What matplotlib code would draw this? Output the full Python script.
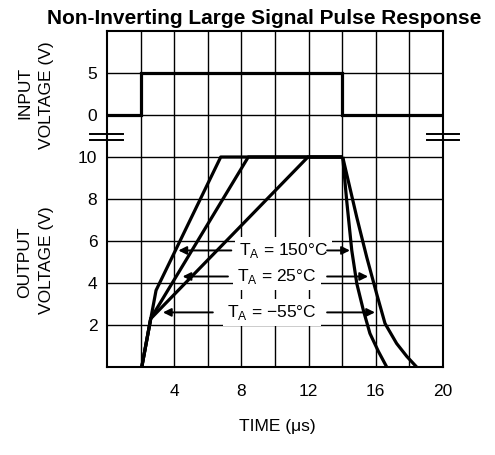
import matplotlib
matplotlib.use("Agg")
import matplotlib.pyplot as plt

plt.rcParams['font.family'] = ['Liberation Sans', 'DejaVu Sans']

# ---- data ----
input_t = [0, 2, 2, 14, 14, 20]
input_v = [0, 0, 5, 5, 0, 0]

rise_150_t = [2.07, 2.92, 6.77, 14.03]
rise_150_v = [0.0, 3.65, 10.0, 10.0]
rise_25_t = [2.07, 2.6, 8.41, 14.03]
rise_25_v = [0.0, 2.3, 10.0, 10.0]
rise_m55_t = [2.07, 2.6, 11.96, 14.03]
rise_m55_v = [0.0, 2.3, 10.0, 10.0]

fall_fast_t = [14.03, 14.27, 14.57, 14.87, 15.26, 15.65, 16.15, 16.65]
fall_fast_v = [10.0, 7.9, 5.55, 3.97, 2.7, 1.6, 0.75, 0.0]
fall_slow_t = [14.03, 14.87, 15.46, 16.05, 16.55, 17.24, 17.85, 18.43]
fall_slow_v = [10.0, 7.12, 5.23, 3.49, 2.07, 1.12, 0.5, 0.0]

labels = ["T$_\\mathregular{A}$ = 150°C", "T$_\\mathregular{A}$ = 25°C", "T$_\\mathregular{A}$ = \u221255°C"]
label_x = [10.5, 10.1, 9.8]
label_y = [5.55, 4.31, 2.6]
left_tip_x = [4.25, 4.5, 3.33]
left_start_x = [7.4, 7.2, 6.3]
right_start_x = [13.1, 13.1, 13.1]
right_tip_x = [14.46, 15.54, 15.95]

x_ticks = [4, 8, 12, 16, 20]
out_ticks = [2, 4, 6, 8, 10]
in_ticks = [0, 5]

IN_OFFSET = 12.0
IN_SCALE = 0.4

def in_map(v):
    return IN_OFFSET + v * IN_SCALE

FS = 12.5

fig = plt.figure(figsize=(4.95, 4.55), dpi=100)
ax = fig.add_axes([107/495, 1 - 367/455, (443-107)/495, (367-31)/455])
ax.set_xlim(0, 20)
ax.set_ylim(0, 16)

# grid
for gx in range(2, 20, 2):
    ax.axvline(gx, color='black', lw=1.0, zorder=1)
for gy in range(2, 16, 2):
    ax.axhline(gy, color='black', lw=1.0, zorder=1)

lw = 2.3
ax.plot(input_t, [in_map(v) for v in input_v], color='black', lw=lw, zorder=3, solid_joinstyle='miter')
for t, v in [(rise_150_t, rise_150_v), (rise_25_t, rise_25_v), (rise_m55_t, rise_m55_v),
             (fall_fast_t, fall_fast_v), (fall_slow_t, fall_slow_v)]:
    ax.plot(t, v, color='black', lw=lw, zorder=3, solid_capstyle='butt')

# labels with arrows
for i in range(3):
    ax.text(label_x[i], label_y[i], labels[i], ha='center', va='center', fontsize=FS,
            zorder=2, bbox=dict(facecolor='white', edgecolor='none', pad=3.0))
    ax.annotate('', xy=(left_tip_x[i], label_y[i]), xytext=(left_start_x[i], label_y[i]),
                arrowprops=dict(arrowstyle='-|>', color='black', lw=1.4, mutation_scale=12,
                                shrinkA=0, shrinkB=0), zorder=4)
    ax.annotate('', xy=(right_tip_x[i], label_y[i]), xytext=(right_start_x[i], label_y[i]),
                arrowprops=dict(arrowstyle='-|>', color='black', lw=1.4, mutation_scale=12,
                                shrinkA=0, shrinkB=0), zorder=4)

# ticks
ax.set_xticks(x_ticks)
ax.set_xticklabels([str(v) for v in x_ticks], fontsize=FS)
yt = out_ticks + [in_map(v) for v in in_ticks]
ax.set_yticks(yt)
ax.set_yticklabels([str(v) for v in out_ticks] + [str(v) for v in in_ticks], fontsize=FS)
ax.tick_params(length=0)
ax.tick_params(axis='x', pad=12)
ax.tick_params(axis='y', pad=7)
for s in ax.spines.values():
    s.set_linewidth(1.5)

# axis break marks
for yb in [10.8, 11.09]:
    ax.plot([-1.0, 0.95], [yb, yb], color='black', lw=1.4, clip_on=False, zorder=5)
    ax.plot([19.05, 20.95], [yb, yb], color='black', lw=1.4, clip_on=False, zorder=5)

# titles and labels
fig.text(264/495, 1 - 19/455, "Non-Inverting Large Signal Pulse Response", ha='center', va='center',
         fontsize=15, fontweight='bold')
fig.text(25/495, 1 - 93/455, "INPUT", rotation=90, ha='center', va='center', fontsize=FS)
fig.text(47/495, 1 - 95/455, "VOLTAGE (V)", rotation=90, ha='center', va='center', fontsize=FS)
fig.text(25/495, 1 - 262/455, "OUTPUT", rotation=90, ha='center', va='center', fontsize=FS)
fig.text(47/495, 1 - 260/455, "VOLTAGE (V)", rotation=90, ha='center', va='center', fontsize=FS)
fig.text(277/495, 1 - 427/455, "TIME (\u03bcs)", ha='center', va='center', fontsize=FS)

fig.savefig("out.png", dpi=100)
